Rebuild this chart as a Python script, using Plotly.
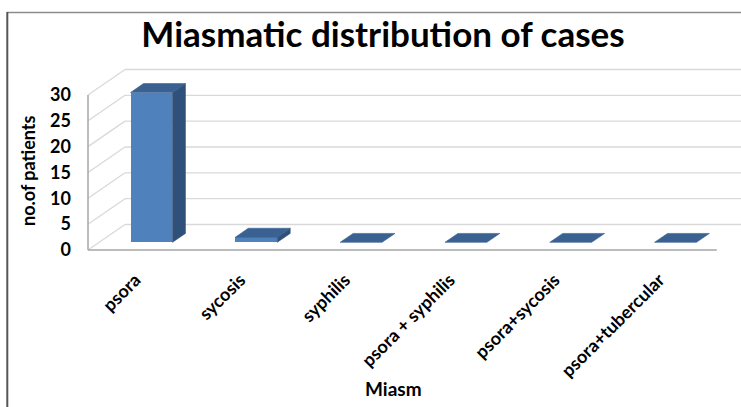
import plotly.graph_objects as go

# Data
categories = ["psora", "sycosis", "syphilis", "psora + syphilis", "psora+sycosis", "psora+tubercular"]
patients = [29, 1, 0, 0, 0, 0]
y_ticks = [0, 5, 10, 15, 20, 25, 30]

title_text = "Miasmatic distribution of cases"
x_title = "Miasm"
y_title = "no.of patients"

# Page / plot geometry (pixels)
W, H = 741, 407
PL, PR, PT, PB = 86, 741, 60, 256          # plot area edges
PX_PER_X = 104.8                           # pixels per category step
PX_PER_Y = 5.167                           # pixels per patient
ZERO_PY = 250                              # pixel row of value 0 on the front edge
X_FRONT_LEFT = -0.5 - 2 / PX_PER_X

x_range = [X_FRONT_LEFT, X_FRONT_LEFT + (PR - PL) / PX_PER_X]
y_range = [-(PB - ZERO_PY) / PX_PER_Y, (ZERO_PY - PT) / PX_PER_Y]

# Oblique depth vector (full depth of the chart box) in data units
DEPTH_X = 37 / PX_PER_X
DEPTH_Y = 25.5 / PX_PER_Y
BAR_D0, BAR_D1 = 0.30, 0.65                # bar depth span as fractions of full depth
BAR_W = 0.40

FRONT = "#4f81bd"
TOP = "#3a6192"
SIDE = "#2f5079"
GRID = "#d9d9d9"
EDGE = "#a6a6a6"

fig = go.Figure()
shapes = []

def poly(xs, ys, color):
    fig.add_trace(go.Scatter(
        x=xs + [xs[0]], y=ys + [ys[0]], mode="lines", fill="toself",
        fillcolor=color, line=dict(color=color, width=0.6),
        hoverinfo="skip", showlegend=False))

def seg(x0, y0, x1, y1, color, width=1.3):
    shapes.append(dict(type="line", xref="x", yref="y", layer="below",
                       x0=x0, y0=y0, x1=x1, y1=y1,
                       line=dict(color=color, width=width)))

x_left = -0.5
x_right = len(categories) - 0.5
top_tick = y_ticks[-1]

# Left wall diagonals and back wall grid lines
for v in y_ticks:
    seg(x_left, v, x_left + DEPTH_X, v + DEPTH_Y, GRID)
    seg(x_left + DEPTH_X, v + DEPTH_Y, x_right + DEPTH_X, v + DEPTH_Y, GRID)
# Left wall front edge and floor front edge
seg(x_left, 0, x_left, top_tick, EDGE, 1.5)
seg(x_left, 0, x_right, 0, EDGE, 1.5)

# 3D columns
bx = [i + BAR_D0 * DEPTH_X for i in range(len(categories))]
base = BAR_D0 * DEPTH_Y
ddx = (BAR_D1 - BAR_D0) * DEPTH_X
ddy = (BAR_D1 - BAR_D0) * DEPTH_Y

fig.add_trace(go.Bar(
    x=bx, y=patients, base=base, width=BAR_W,
    marker=dict(color=FRONT, line=dict(width=0)),
    hovertemplate="%{text}: %{y}<extra></extra>", text=categories,
    textposition="none", showlegend=False))

for cx, v in zip(bx, patients):
    x0, x1 = cx - BAR_W / 2, cx + BAR_W / 2
    top = base + v
    if v > 0:
        poly([x1, x1, x1 + ddx, x1 + ddx], [base, top, top + ddy, base + ddy], SIDE)
    poly([x0, x1, x1 + ddx, x0 + ddx], [top, top, top + ddy, top + ddy], TOP)

def px_to_paper_x(px):
    return (px - PL) / (PR - PL)

def py_to_paper_y(py):
    return (PB - py) / (PB - PT)

# Frame lines along the top and left of the page
shapes += [
    dict(type="line", xref="paper", yref="paper",
         x0=px_to_paper_x(7), x1=px_to_paper_x(W + 2),
         y0=py_to_paper_y(12.5), y1=py_to_paper_y(12.5),
         line=dict(color="#8c8c8c", width=1.5)),
    dict(type="line", xref="paper", yref="paper",
         x0=px_to_paper_x(7.3), x1=px_to_paper_x(7.3),
         y0=py_to_paper_y(12), y1=py_to_paper_y(H + 2),
         line=dict(color="#555555", width=2)),
]

font_family = "Lato, 'Open Sans', sans-serif"

fig.update_layout(
    width=W, height=H,
    margin=dict(l=PL, r=W - PR, t=PT, b=H - PB, pad=0),
    paper_bgcolor="white", plot_bgcolor="rgba(0,0,0,0)",
    bargap=0,
    font=dict(family=font_family, color="#000000"),
    xaxis=dict(
        range=x_range, showgrid=False, zeroline=False, showline=False,
        tickmode="array", tickvals=list(range(len(categories))), ticktext=categories,
        tickangle=-45, ticks="", ticklabelstandoff=9, ticklabelshift=-5,
        tickfont=dict(size=18, weight="bold", family=font_family),
        fixedrange=True),
    yaxis=dict(
        range=y_range, showgrid=False, zeroline=False, showline=False,
        tickmode="array", tickvals=y_ticks, ticktext=[str(v) for v in y_ticks],
        ticks="", ticklabelstandoff=14,
        tickfont=dict(size=18, weight="bold", family=font_family),
        fixedrange=True),
    title=dict(
        text=title_text, x=383 / W, y=1 - 35 / H, xanchor="center", yanchor="middle",
        xref="container", yref="container",
        font=dict(size=35, weight="bold", family=font_family, color="#000000")),
    annotations=[
        dict(text=x_title, x=px_to_paper_x(393), y=py_to_paper_y(388),
             xref="paper", yref="paper", showarrow=False,
             xanchor="center", yanchor="middle",
             font=dict(size=19, weight="bold", family=font_family)),
        dict(text=y_title, x=px_to_paper_x(28), y=py_to_paper_y(171),
             xref="paper", yref="paper", showarrow=False, textangle=-90,
             xanchor="center", yanchor="middle",
             font=dict(size=18, weight="bold", family=font_family)),
    ],
    shapes=shapes,
)

fig.write_html("out.html")
